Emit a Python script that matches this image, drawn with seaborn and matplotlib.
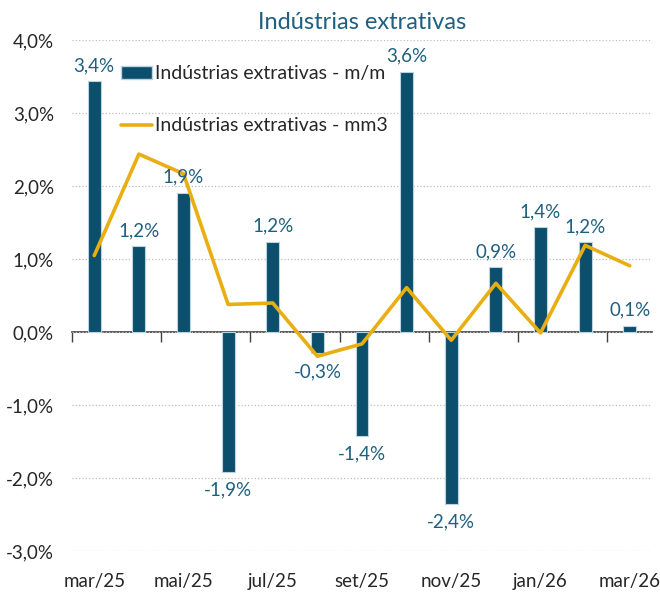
import matplotlib
matplotlib.use("Agg")
import matplotlib.pyplot as plt
from matplotlib.lines import Line2D
from matplotlib.patches import Patch
import seaborn as sns
import pandas as pd

# Dados (variação %)
meses = ['mar/25', 'abr/25', 'mai/25', 'jun/25', 'jul/25', 'ago/25', 'set/25',
         'out/25', 'nov/25', 'dez/25', 'jan/26', 'fev/26', 'mar/26']
mm = [3.44, 1.18, 1.91, -1.91, 1.24, -0.29, -1.42, 3.57, -2.35, 0.89, 1.44, 1.23, 0.09]
mm3 = [1.05, 2.44, 2.17, 0.38, 0.40, -0.33, -0.16, 0.61, -0.11, 0.67, -0.01, 1.19, 0.91]
rotulos = ['3,4%', '1,2%', '1,9%', '-1,9%', '1,2%', '-0,3%', '-1,4%',
           '3,6%', '-2,4%', '0,9%', '1,4%', '1,2%', '0,1%']

df = pd.DataFrame({'mes': meses, 'mm': mm, 'mm3': mm3})

cor_barra = '#0B4F6C'
cor_linha = '#E8AE12'
cor_texto = '#1F5F7F'

sns.set_style('white')
plt.rcParams['font.family'] = ['Lato', 'DejaVu Sans']

fig = plt.figure(figsize=(6.6, 5.92), dpi=100)
ax = fig.add_axes([0.109, 0.069, 0.879, 0.863])

sns.barplot(data=df, x='mes', y='mm', color=cor_barra, width=0.29,
            edgecolor='#B9D3E3', linewidth=0.8, saturation=1, ax=ax)
sns.lineplot(data=df, x='mes', y='mm3', color=cor_linha, linewidth=2.6,
             sort=False, ax=ax)

# rótulos de dados
for i, (v, r) in enumerate(zip(mm, rotulos)):
    if v >= 0:
        ax.annotate(r, (i, v), xytext=(0, 5), textcoords='offset points',
                    ha='center', va='bottom', color=cor_texto, fontsize=13.5)
    else:
        ax.annotate(r, (i, v), xytext=(0, -7), textcoords='offset points',
                    ha='center', va='top', color=cor_texto, fontsize=13.5)

ax.set_ylim(-3, 4)
ax.set_xlim(-0.5, 12.5)
ax.set_yticks(range(-3, 5))
ax.set_yticklabels([f'{t},0%' for t in range(-3, 5)], fontsize=13.5)
ax.yaxis.grid(True, linestyle=':', color='#BFBFBF', linewidth=0.9)
ax.set_axisbelow(True)

ax.set_xticks(range(0, 13, 2))
ax.set_xticklabels(meses[::2], fontsize=13.5)
ax.tick_params(axis='x', length=0, pad=16)
ax.tick_params(axis='y', length=0, pad=13)
ax.set_xlabel('')
ax.set_ylabel('')
for s in ax.spines.values():
    s.set_visible(False)

# eixo no zero com marcas entre categorias
sec = ax.secondary_xaxis(3 / 7)
sec.set_xticks([-0.5, 1.5, 3.5, 5.5, 7.5, 9.5, 11.5])
sec.set_xticklabels([])
sec.tick_params(length=7, width=1, color='#404040', direction='out')
sec.spines['bottom'].set_color('#404040')
sec.spines['bottom'].set_linewidth(1.2)
sec.spines['top'].set_visible(False)

ax.set_title('Indústrias extrativas', color=cor_texto, fontsize=17, pad=8)

handles = [Patch(facecolor=cor_barra, edgecolor='#B9D3E3'),
           Line2D([0], [0], color=cor_linha, linewidth=2.6)]
ax.legend(handles, ['Indústrias extrativas - m/m', 'Indústrias extrativas - mm3'],
          loc='upper left', bbox_to_anchor=(0.055, 0.985), frameon=False,
          fontsize=14, labelspacing=1.8, handlelength=1.6, handletextpad=0.15)

fig.savefig('out.png', dpi=100)
